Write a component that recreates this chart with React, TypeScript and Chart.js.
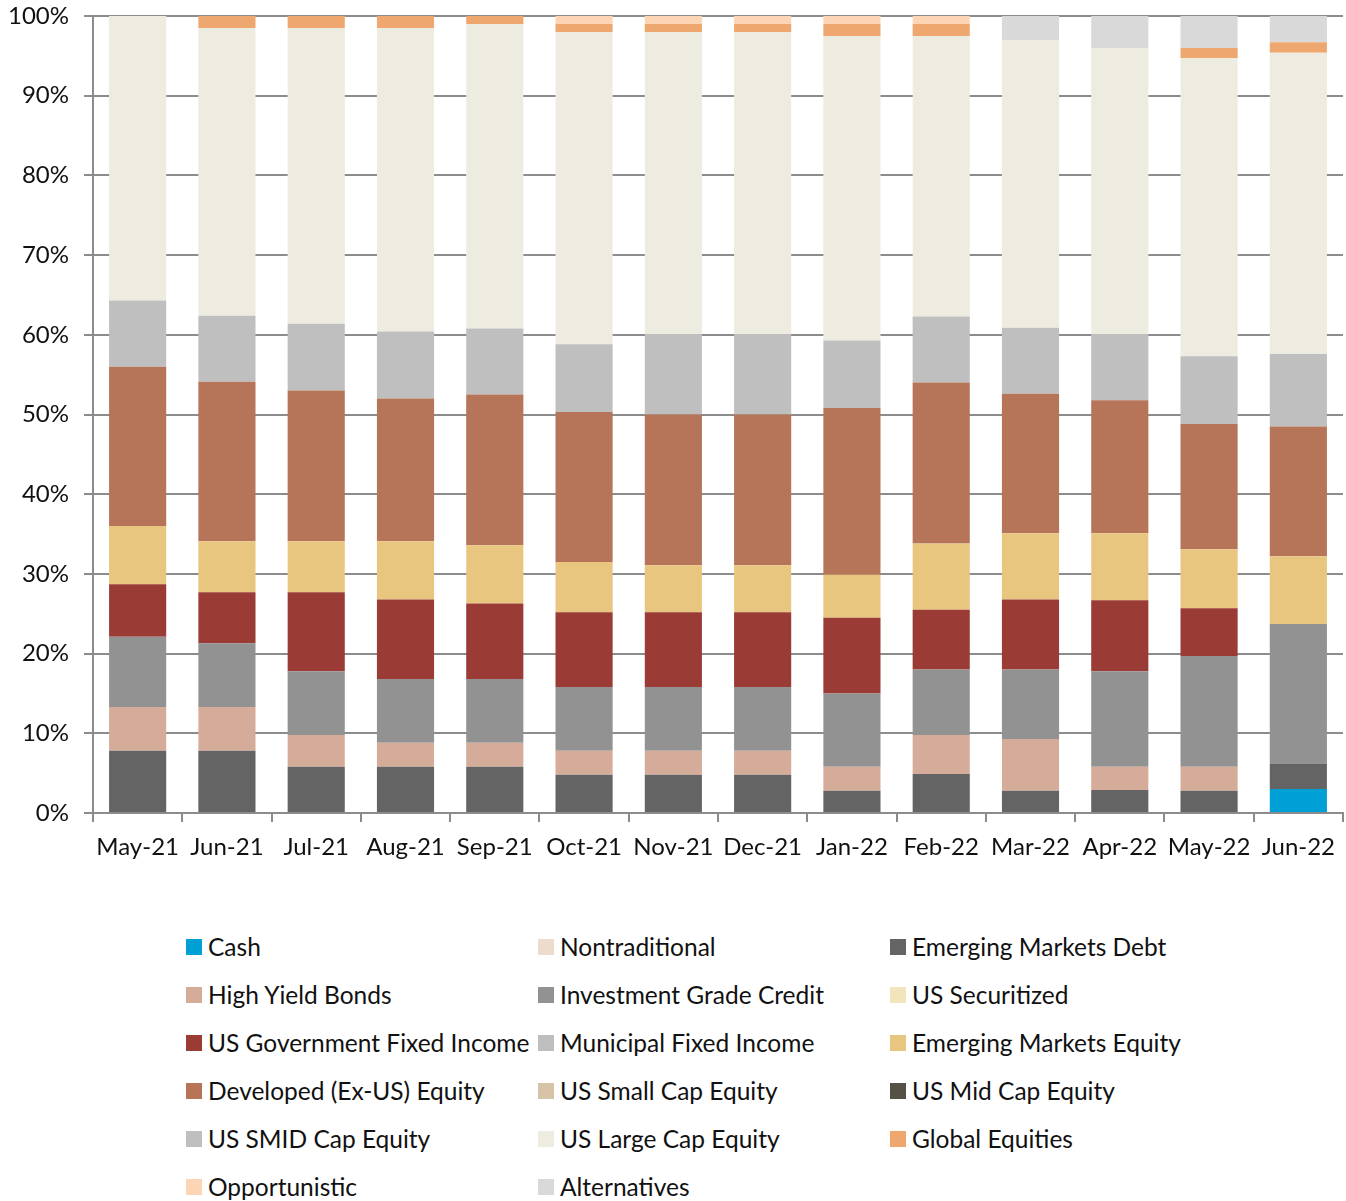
import React, { useEffect, useRef } from "react";
import { Chart, registerables } from "chart.js";

Chart.register(...registerables);

const categories = ["May-21", "Jun-21", "Jul-21", "Aug-21", "Sep-21", "Oct-21", "Nov-21", "Dec-21", "Jan-22", "Feb-22", "Mar-22", "Apr-22", "May-22", "Jun-22"];

const yTicks = [0, 10, 20, 30, 40, 50, 60, 70, 80, 90, 100];

const cash = [0, 0, 0, 0, 0, 0, 0, 0, 0, 0, 0, 0, 0, 3.0];
const nontraditional = [0, 0, 0, 0, 0, 0, 0, 0, 0, 0, 0, 0, 0, 0];
const emergingMarketsDebt = [7.8, 7.8, 5.8, 5.8, 5.8, 4.8, 4.8, 4.8, 2.8, 4.9, 2.8, 2.9, 2.8, 3.2];
const highYieldBonds = [5.5, 5.5, 4.0, 3.0, 3.0, 3.0, 3.0, 3.0, 3.0, 4.9, 6.5, 2.9, 3.0, 0];
const investmentGradeCredit = [8.8, 8.0, 8.0, 8.0, 8.0, 8.0, 8.0, 8.0, 9.2, 8.2, 8.7, 12.0, 13.9, 17.5];
const usSecuritized = [0, 0, 0, 0, 0, 0, 0, 0, 0, 0, 0, 0, 0, 0];
const usGovernmentFixedIncome = [6.6, 6.4, 9.9, 10.0, 9.5, 9.4, 9.4, 9.4, 9.5, 7.5, 8.8, 8.9, 6.0, 0];
const municipalFixedIncome = [0, 0, 0, 0, 0, 0, 0, 0, 0, 0, 0, 0, 0, 0];
const emergingMarketsEquity = [7.3, 6.4, 6.4, 7.3, 7.3, 6.3, 5.9, 5.9, 5.4, 8.3, 8.3, 8.4, 7.4, 8.5];
const developedExUsEquity = [20.0, 20.0, 18.9, 17.9, 18.9, 18.8, 18.9, 18.9, 20.9, 20.2, 17.5, 16.7, 15.7, 16.3];
const usSmallCapEquity = [0, 0, 0, 0, 0, 0, 0, 0, 0, 0, 0, 0, 0, 0];
const usMidCapEquity = [0, 0, 0, 0, 0, 0, 0, 0, 0, 0, 0, 0, 0, 0];
const usSmidCapEquity = [8.3, 8.3, 8.4, 8.4, 8.3, 8.5, 10.1, 10.1, 8.5, 8.3, 8.3, 8.3, 8.5, 9.1];
const usLargeCapEquity = [35.7, 36.1, 37.1, 38.1, 38.2, 39.2, 37.9, 37.9, 38.2, 35.2, 36.1, 35.9, 37.4, 37.8];
const globalEquities = [0, 1.5, 1.5, 1.5, 1.0, 1.0, 1.0, 1.0, 1.5, 1.5, 0, 0, 1.3, 1.3];
const opportunistic = [0, 0, 0, 0, 0, 1.0, 1.0, 1.0, 1.0, 1.0, 0, 0, 0, 0];
const alternatives = [0, 0, 0, 0, 0, 0, 0, 0, 0, 0, 3.0, 4.0, 4.0, 3.3];

const seriesLabels = [
  "Cash", "Nontraditional", "Emerging Markets Debt",
  "High Yield Bonds", "Investment Grade Credit", "US Securitized",
  "US Government Fixed Income", "Municipal Fixed Income", "Emerging Markets Equity",
  "Developed (Ex-US) Equity", "US Small Cap Equity", "US Mid Cap Equity",
  "US SMID Cap Equity", "US Large Cap Equity", "Global Equities",
  "Opportunistic", "Alternatives",
];

const seriesData = [
  cash, nontraditional, emergingMarketsDebt,
  highYieldBonds, investmentGradeCredit, usSecuritized,
  usGovernmentFixedIncome, municipalFixedIncome, emergingMarketsEquity,
  developedExUsEquity, usSmallCapEquity, usMidCapEquity,
  usSmidCapEquity, usLargeCapEquity, globalEquities,
  opportunistic, alternatives,
];

const seriesColors = [
  "#00A0D6", "#EBDCCB", "#646464",
  "#D5AC9A", "#929292", "#F2E5BC",
  "#9A3B36", "#BEBEBE", "#E9C680",
  "#B67459", "#D8C3A6", "#565047",
  "#BFBFBF", "#EEEBE0", "#EDA76F",
  "#FCD5B5", "#D9D9D9",
];

const FONT = "Lato, 'Open Sans', sans-serif";
const TEXT = "#111111";
const AXIS = "#8c8c8c";

export default function App() {
  const canvasRef = useRef<HTMLCanvasElement | null>(null);

  useEffect(() => {
    const canvas = canvasRef.current;
    if (!canvas) return;
    const chart = new Chart(canvas, {
      type: "bar",
      data: {
        labels: categories,
        datasets: seriesLabels.map((label, i) => ({
          label,
          data: seriesData[i],
          backgroundColor: seriesColors[i],
          borderWidth: 0,
          barPercentage: 0.64,
          categoryPercentage: 1,
        })),
      },
      options: {
        responsive: false,
        animation: false,
        layout: { padding: { top: 16, right: 3, left: 0, bottom: 0 } },
        plugins: {
          legend: { display: false },
          tooltip: { enabled: false },
        },
        scales: {
          x: {
            stacked: true,
            grid: {
              display: true,
              drawOnChartArea: false,
              drawTicks: true,
              tickLength: 9,
              color: AXIS,
              lineWidth: 2,
              offset: true,
            },
            border: { display: true, color: AXIS, width: 2 },
            ticks: {
              color: TEXT,
              font: { family: FONT, size: 24 },
              padding: 11,
              maxRotation: 0,
              autoSkip: false,
            },
            afterFit: (scale: any) => {
              scale.height = 67;
              scale.paddingLeft = 0;
              scale.paddingRight = 0;
            },
          },
          y: {
            stacked: true,
            min: 0,
            max: 100,
            afterBuildTicks: (scale: any) => {
              scale.ticks = yTicks.map((v) => ({ value: v }));
            },
            grid: {
              color: AXIS,
              lineWidth: 2,
              drawTicks: true,
              tickLength: 9,
            },
            border: { display: true, color: AXIS, width: 2 },
            ticks: {
              color: TEXT,
              font: { family: FONT, size: 24 },
              padding: 15,
              callback: (v: any) => `${v}%`,
            },
            afterFit: (scale: any) => {
              scale.width = 93;
              scale.paddingTop = 0;
              scale.paddingBottom = 0;
            },
          },
        },
      },
    });
    return () => chart.destroy();
  }, []);

  return (
    <div style={{ position: "absolute", left: 0, top: 0, width: 1346, height: 1201, background: "#fff", fontFamily: FONT }}>
      <canvas ref={canvasRef} width={1346} height={880} style={{ display: "block", width: 1346, height: 880 }} />
      <div
        style={{
          position: "absolute",
          left: 186,
          top: 923,
          display: "grid",
          gridTemplateColumns: "352px 352px 352px",
          gridAutoRows: "48px",
        }}
      >
        {seriesLabels.map((label, i) => (
          <div key={label} style={{ display: "flex", alignItems: "center", height: 48, whiteSpace: "nowrap" }}>
            <span style={{ display: "inline-block", width: 16, height: 16, background: seriesColors[i], marginRight: 6, flex: "none" }} />
            <span style={{ fontSize: 24.5, color: TEXT, lineHeight: "48px" }}>{label}</span>
          </div>
        ))}
      </div>
    </div>
  );
}
